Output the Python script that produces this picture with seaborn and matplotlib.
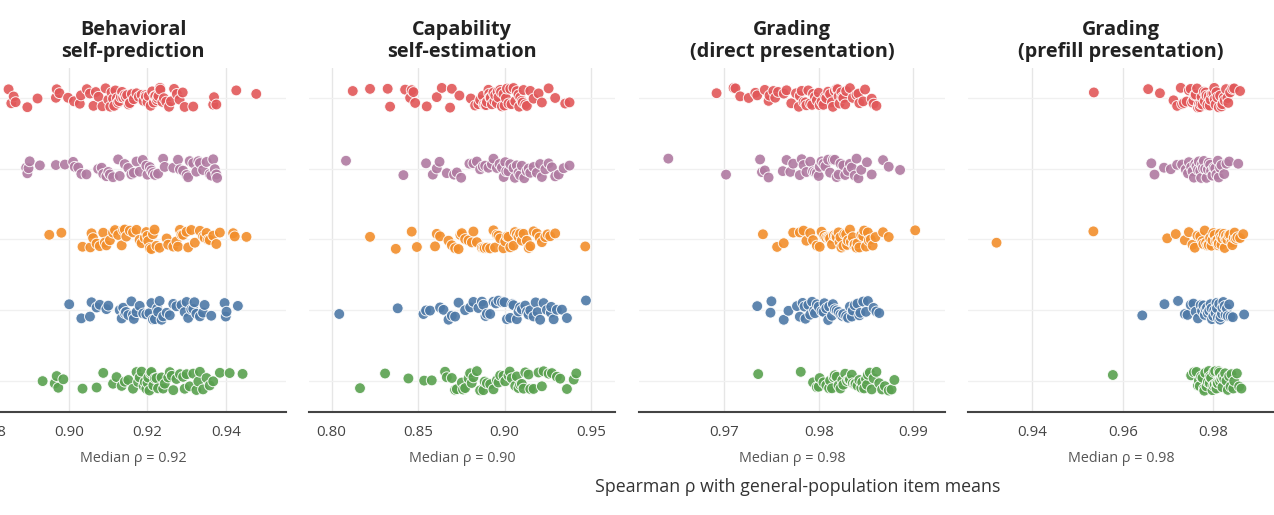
import numpy as np
import pandas as pd
import seaborn as sns
import matplotlib.pyplot as plt

ROWS = ["Group 1", "Group 2", "Group 3", "Group 4", "Group 5"]
COLORS = ["#e15759", "#b07aa1", "#f28e2b", "#4e79a7", "#59a14f"]
TITLES = ["Behavioral\nself-prediction", "Capability\nself-estimation",
          "Grading\n(direct presentation)", "Grading\n(prefill presentation)"]
MEDIANS = [0.92, 0.90, 0.98, 0.98]
TICKS = [[0.88, 0.90, 0.92, 0.94], [0.80, 0.85, 0.90, 0.95],
         [0.97, 0.98, 0.99], [0.94, 0.96, 0.98]]
XLIMS = [(0.8772, 0.9554), (0.7869, 0.9639), (0.9610, 0.99335), (0.9258, 0.9934)]

# panel 1: behavioral self-prediction
p1_red = [0.8845, 0.8852, 0.8858, 0.8863, 0.8893, 0.8919, 0.8966, 0.8968, 0.8975, 0.8997,
          0.9012, 0.9027, 0.9030, 0.9045, 0.9053, 0.9062, 0.9068, 0.9075, 0.9085, 0.9093,
          0.9100, 0.9105, 0.9108, 0.9112, 0.9115, 0.9118, 0.9122, 0.9125, 0.9128, 0.9132,
          0.9135, 0.9138, 0.9142, 0.9145, 0.9148, 0.9152, 0.9155, 0.9160, 0.9165, 0.9172,
          0.9178, 0.9185, 0.9190, 0.9195, 0.9196, 0.9200, 0.9203, 0.9208, 0.9212, 0.9216,
          0.9218, 0.9220, 0.9224, 0.9226, 0.9228, 0.9232, 0.9233, 0.9238, 0.9242, 0.9248,
          0.9255, 0.9260, 0.9268, 0.9275, 0.9282, 0.9290, 0.9295, 0.9317, 0.9368, 0.9370,
          0.9376, 0.9427, 0.9478]
p1_purple = [0.8890, 0.8893, 0.8896, 0.8899, 0.8925, 0.8966, 0.8989, 0.9010, 0.9014, 0.9023,
             0.9031, 0.9044, 0.9074, 0.9083, 0.9087, 0.9095, 0.9100, 0.9104, 0.9112, 0.9125,
             0.9129, 0.9142, 0.9151, 0.9159, 0.9165, 0.9172, 0.9180, 0.9188, 0.9197, 0.9200,
             0.9206, 0.9210, 0.9214, 0.9219, 0.9227, 0.9240, 0.9244, 0.9266, 0.9278, 0.9283,
             0.9291, 0.9300, 0.9304, 0.9308, 0.9317, 0.9325, 0.9330, 0.9334, 0.9342, 0.9351,
             0.9359, 0.9363, 0.9368, 0.9372, 0.9376, 0.9378]
p1_orange = [0.8949, 0.8980, 0.9034, 0.9054, 0.9057, 0.9061, 0.9070, 0.9078, 0.9087, 0.9091,
             0.9095, 0.9104, 0.9112, 0.9117, 0.9125, 0.9134, 0.9138, 0.9142, 0.9146, 0.9155,
             0.9163, 0.9172, 0.9180, 0.9185, 0.9193, 0.9197, 0.9200, 0.9202, 0.9206, 0.9210,
             0.9214, 0.9218, 0.9223, 0.9231, 0.9249, 0.9253, 0.9266, 0.9274, 0.9278, 0.9283,
             0.9287, 0.9291, 0.9300, 0.9304, 0.9312, 0.9321, 0.9334, 0.9342, 0.9346, 0.9351,
             0.9355, 0.9359, 0.9368, 0.9376, 0.9385, 0.9419, 0.9423, 0.9453]
p1_blue = [0.9000, 0.9031, 0.9053, 0.9057, 0.9070, 0.9078, 0.9095, 0.9100, 0.9129, 0.9134,
           0.9138, 0.9142, 0.9145, 0.9151, 0.9159, 0.9163, 0.9165, 0.9172, 0.9180, 0.9189,
           0.9197, 0.9205, 0.9210, 0.9214, 0.9219, 0.9225, 0.9227, 0.9231, 0.9236, 0.9240,
           0.9249, 0.9257, 0.9266, 0.9274, 0.9287, 0.9295, 0.9300, 0.9304, 0.9312, 0.9317,
           0.9320, 0.9325, 0.9334, 0.9342, 0.9346, 0.9363, 0.9397, 0.9400, 0.9402, 0.9431]
p1_green = [0.8932, 0.8963, 0.8968, 0.8972, 0.8985, 0.9034, 0.9070, 0.9087, 0.9112, 0.9121,
            0.9134, 0.9142, 0.9151, 0.9163, 0.9172, 0.9176, 0.9180, 0.9185, 0.9190, 0.9193,
            0.9197, 0.9200, 0.9202, 0.9205, 0.9208, 0.9210, 0.9215, 0.9219, 0.9223, 0.9227,
            0.9236, 0.9240, 0.9244, 0.9253, 0.9257, 0.9262, 0.9266, 0.9274, 0.9283, 0.9291,
            0.9295, 0.9300, 0.9308, 0.9317, 0.9325, 0.9330, 0.9334, 0.9342, 0.9351, 0.9359,
            0.9368, 0.9385, 0.9410, 0.9443]

# panel 2: capability self-estimation
p2_red = [0.8122, 0.8222, 0.8324, 0.8338, 0.8425, 0.8454, 0.8463, 0.8473, 0.8483, 0.8550,
          0.8608, 0.8637, 0.8685, 0.8695, 0.8739, 0.8805, 0.8830, 0.8849, 0.8859, 0.8874,
          0.8880, 0.8888, 0.8893, 0.8898, 0.8907, 0.8912, 0.8917, 0.8920, 0.8927, 0.8936,
          0.8941, 0.8946, 0.8956, 0.8960, 0.8965, 0.8975, 0.8980, 0.8985, 0.8994, 0.9000,
          0.9008, 0.9014, 0.9023, 0.9033, 0.9040, 0.9052, 0.9062, 0.9071, 0.9081, 0.9085,
          0.9091, 0.9100, 0.9105, 0.9110, 0.9120, 0.9129, 0.9149, 0.9168, 0.9197, 0.9216,
          0.9255, 0.9293, 0.9351, 0.9376]
p2_purple = [0.8083, 0.8415, 0.8546, 0.8585, 0.8608, 0.8624, 0.8666, 0.8708, 0.8724, 0.8749,
             0.8797, 0.8820, 0.8840, 0.8859, 0.8874, 0.8888, 0.8907, 0.8927, 0.8936, 0.8956,
             0.8971, 0.8985, 0.8995, 0.9004, 0.9010, 0.9023, 0.9033, 0.9052, 0.9060, 0.9071,
             0.9081, 0.9090, 0.9100, 0.9114, 0.9129, 0.9140, 0.9149, 0.9168, 0.9187, 0.9206,
             0.9216, 0.9236, 0.9255, 0.9274, 0.9293, 0.9313, 0.9342, 0.9376]
p2_orange = [0.8222, 0.8371, 0.8463, 0.8493, 0.8598, 0.8608, 0.8627, 0.8676, 0.8695, 0.8714,
             0.8734, 0.8745, 0.8753, 0.8772, 0.8792, 0.8811, 0.8820, 0.8840, 0.8869, 0.8878,
             0.8885, 0.8898, 0.8917, 0.8936, 0.8945, 0.8956, 0.8965, 0.8975, 0.8994, 0.9004,
             0.9015, 0.9023, 0.9033, 0.9052, 0.9060, 0.9071, 0.9081, 0.9090, 0.9100, 0.9110,
             0.9129, 0.9140, 0.9149, 0.9168, 0.9187, 0.9203, 0.9216, 0.9236, 0.9249, 0.9264,
             0.9293, 0.9467]
p2_blue = [0.8044, 0.8382, 0.8531, 0.8546, 0.8569, 0.8627, 0.8647, 0.8676, 0.8695, 0.8714,
           0.8734, 0.8772, 0.8801, 0.8820, 0.8849, 0.8869, 0.8878, 0.8890, 0.8898, 0.8917,
           0.8936, 0.8950, 0.8965, 0.8985, 0.9000, 0.9014, 0.9033, 0.9045, 0.9052, 0.9071,
           0.9081, 0.9090, 0.9100, 0.9120, 0.9130, 0.9139, 0.9149, 0.9168, 0.9180, 0.9191,
           0.9206, 0.9226, 0.9245, 0.9268, 0.9270, 0.9284, 0.9303, 0.9332, 0.9361, 0.9471]
p2_green = [0.8164, 0.8309, 0.8444, 0.8535, 0.8579, 0.8656, 0.8666, 0.8695, 0.8714, 0.8724,
            0.8753, 0.8760, 0.8772, 0.8792, 0.8801, 0.8810, 0.8820, 0.8840, 0.8859, 0.8878,
            0.8885, 0.8898, 0.8917, 0.8936, 0.8956, 0.8965, 0.8975, 0.8994, 0.9004, 0.9023,
            0.9030, 0.9042, 0.9062, 0.9071, 0.9081, 0.9090, 0.9100, 0.9110, 0.9120, 0.9139,
            0.9149, 0.9168, 0.9197, 0.9216, 0.9226, 0.9255, 0.9274, 0.9303, 0.9322, 0.9361,
            0.9400, 0.9415]

# panel 3: grading, direct presentation
p3_red = [0.9692, 0.9710, 0.9712, 0.9717, 0.9726, 0.9733, 0.9735, 0.9743, 0.9747, 0.9748,
          0.9752, 0.9754, 0.9757, 0.9763, 0.9766, 0.9771, 0.9776, 0.9779, 0.9780, 0.9782,
          0.9784, 0.9786, 0.9787, 0.9789, 0.9791, 0.9793, 0.9794, 0.9796, 0.9798, 0.9800,
          0.9801, 0.9803, 0.9805, 0.9807, 0.9808, 0.9810, 0.9812, 0.9814, 0.9815, 0.9817,
          0.9819, 0.9820, 0.9821, 0.9822, 0.9824, 0.9825, 0.9826, 0.9828, 0.9829, 0.9833,
          0.9836, 0.9840, 0.9842, 0.9843, 0.9847, 0.9849, 0.9856, 0.9858, 0.9861]
p3_purple = [0.9641, 0.9702, 0.9738, 0.9740, 0.9743, 0.9747, 0.9762, 0.9766, 0.9770, 0.9773,
             0.9780, 0.9782, 0.9784, 0.9787, 0.9791, 0.9794, 0.9796, 0.9798, 0.9800, 0.9801,
             0.9803, 0.9805, 0.9807, 0.9810, 0.9812, 0.9815, 0.9817, 0.9819, 0.9821, 0.9823,
             0.9826, 0.9828, 0.9831, 0.9833, 0.9835, 0.9838, 0.9840, 0.9842, 0.9845, 0.9851,
             0.9856, 0.9868, 0.9874, 0.9886]
p3_orange = [0.9741, 0.9756, 0.9763, 0.9773, 0.9780, 0.9784, 0.9787, 0.9791, 0.9794, 0.9798,
             0.9801, 0.9803, 0.9806, 0.9808, 0.9810, 0.9811, 0.9812, 0.9814, 0.9816, 0.9818,
             0.9819, 0.9821, 0.9822, 0.9823, 0.9824, 0.9826, 0.9827, 0.9829, 0.9830, 0.9831,
             0.9833, 0.9834, 0.9836, 0.9837, 0.9838, 0.9840, 0.9841, 0.9843, 0.9845, 0.9847,
             0.9848, 0.9850, 0.9852, 0.9853, 0.9855, 0.9857, 0.9860, 0.9868, 0.9874, 0.9902]
p3_blue = [0.9735, 0.9749, 0.9750, 0.9763, 0.9768, 0.9777, 0.9780, 0.9783, 0.9785, 0.9786,
           0.9789, 0.9791, 0.9793, 0.9795, 0.9796, 0.9798, 0.9800, 0.9803, 0.9805, 0.9806,
           0.9808, 0.9810, 0.9811, 0.9814, 0.9815, 0.9817, 0.9819, 0.9821, 0.9823, 0.9825,
           0.9826, 0.9829, 0.9831, 0.9833, 0.9835, 0.9836, 0.9838, 0.9841, 0.9843, 0.9844,
           0.9847, 0.9850, 0.9852, 0.9858, 0.9861, 0.9864]
p3_green = [0.9736, 0.9781, 0.9794, 0.9798, 0.9800, 0.9801, 0.9805, 0.9808, 0.9811, 0.9812,
            0.9814, 0.9816, 0.9817, 0.9819, 0.9821, 0.9823, 0.9825, 0.9826, 0.9828, 0.9830,
            0.9832, 0.9833, 0.9835, 0.9836, 0.9838, 0.9839, 0.9841, 0.9843, 0.9845, 0.9846,
            0.9848, 0.9850, 0.9851, 0.9852, 0.9854, 0.9856, 0.9858, 0.9861, 0.9864, 0.9867,
            0.9870, 0.9874, 0.9877, 0.9880]

# panel 4: grading, prefill presentation
p4_red = [0.9536, 0.9656, 0.9682, 0.9712, 0.9720, 0.9728, 0.9731, 0.9735, 0.9741, 0.9746,
          0.9750, 0.9753, 0.9756, 0.9759, 0.9761, 0.9764, 0.9766, 0.9768, 0.9770, 0.9772,
          0.9774, 0.9776, 0.9779, 0.9781, 0.9783, 0.9785, 0.9787, 0.9790, 0.9792, 0.9794,
          0.9797, 0.9800, 0.9802, 0.9803, 0.9805, 0.9807, 0.9809, 0.9812, 0.9815, 0.9818,
          0.9820, 0.9823, 0.9825, 0.9828, 0.9831, 0.9833, 0.9837, 0.9842, 0.9846, 0.9859]
p4_purple = [0.9663, 0.9670, 0.9691, 0.9706, 0.9720, 0.9731, 0.9739, 0.9744, 0.9746, 0.9751,
             0.9754, 0.9757, 0.9760, 0.9763, 0.9766, 0.9768, 0.9771, 0.9773, 0.9775, 0.9777,
             0.9779, 0.9782, 0.9785, 0.9788, 0.9790, 0.9793, 0.9795, 0.9798, 0.9801, 0.9804,
             0.9807, 0.9810, 0.9812, 0.9815, 0.9818, 0.9824, 0.9829, 0.9835, 0.9855]
p4_orange = [0.9321, 0.9535, 0.9698, 0.9717, 0.9737, 0.9746, 0.9754, 0.9759, 0.9765, 0.9771,
             0.9776, 0.9778, 0.9781, 0.9784, 0.9787, 0.9790, 0.9793, 0.9796, 0.9798, 0.9800,
             0.9803, 0.9806, 0.9809, 0.9811, 0.9812, 0.9815, 0.9817, 0.9818, 0.9820, 0.9823,
             0.9825, 0.9827, 0.9828, 0.9831, 0.9834, 0.9837, 0.9840, 0.9842, 0.9845, 0.9847,
             0.9850, 0.9853, 0.9859, 0.9866]
p4_blue = [0.9643, 0.9692, 0.9722, 0.9737, 0.9743, 0.9750, 0.9756, 0.9761, 0.9766, 0.9772,
           0.9775, 0.9778, 0.9781, 0.9783, 0.9786, 0.9788, 0.9791, 0.9794, 0.9796, 0.9797,
           0.9800, 0.9802, 0.9805, 0.9807, 0.9808, 0.9810, 0.9813, 0.9815, 0.9816, 0.9819,
           0.9820, 0.9822, 0.9825, 0.9827, 0.9830, 0.9832, 0.9835, 0.9838, 0.9843, 0.9868]
p4_green = [0.9578, 0.9751, 0.9757, 0.9763, 0.9766, 0.9768, 0.9770, 0.9773, 0.9776, 0.9779,
            0.9780, 0.9782, 0.9785, 0.9788, 0.9790, 0.9792, 0.9793, 0.9795, 0.9798, 0.9800,
            0.9801, 0.9803, 0.9804, 0.9807, 0.9808, 0.9810, 0.9812, 0.9814, 0.9815, 0.9818,
            0.9820, 0.9821, 0.9824, 0.9826, 0.9829, 0.9832, 0.9835, 0.9838, 0.9840, 0.9844,
            0.9846, 0.9852, 0.9857, 0.9862]

PANEL_DATA = [
    [p1_red, p1_purple, p1_orange, p1_blue, p1_green],
    [p2_red, p2_purple, p2_orange, p2_blue, p2_green],
    [p3_red, p3_purple, p3_orange, p3_blue, p3_green],
    [p4_red, p4_purple, p4_orange, p4_blue, p4_green],
]

frames = []
for title, rows in zip(TITLES, PANEL_DATA):
    for name, vals in zip(ROWS, rows):
        frames.append(pd.DataFrame({"panel": title, "row": name, "rho": vals}))
df = pd.concat(frames, ignore_index=True)

sns.set_theme(style="white")
plt.rcParams["font.family"] = ["Open Sans", "DejaVu Sans"]
np.random.seed(7)

W, H = 1274, 515
fig = plt.figure(figsize=(W / 100, H / 100), dpi=100)
lefts = [-20, 309, 639, 968]

for i, title in enumerate(TITLES):
    ax = fig.add_axes([lefts[i] / W, 1 - 412 / H, 306 / W, 344 / H])
    sub = df[df.panel == title]
    sns.stripplot(data=sub, x="rho", y="row", hue="row", order=ROWS, hue_order=ROWS,
                  palette=COLORS, jitter=0.14, size=7.8, alpha=0.9,
                  edgecolor="white", linewidth=0.7, legend=False, ax=ax, zorder=3)
    ax.set_xlim(*XLIMS[i])
    ax.set_ylim(4.44, -0.42)
    ax.set_xticks(TICKS[i])
    ax.set_xticklabels([f"{t:.2f}" for t in TICKS[i]])
    ax.set_yticklabels([])
    ax.set_ylabel("")
    ax.tick_params(axis="both", length=0)
    ax.tick_params(axis="x", pad=9, labelsize=10.8, labelcolor="#444444")
    ax.xaxis.grid(True, color="#e6e6e6", lw=1)
    ax.yaxis.grid(True, color="#f0f0f0", lw=1)
    ax.set_axisbelow(True)
    for s in ["top", "left", "right"]:
        ax.spines[s].set_visible(False)
    ax.spines["bottom"].set_color("#444444")
    ax.spines["bottom"].set_linewidth(1.5)
    ax.set_xlabel(f"Median ρ = {MEDIANS[i]:.2f}", fontsize=10.4, color="#555555", labelpad=8)
    ax.set_title(title, fontsize=14.3, fontweight="bold", color="#222222", pad=8,
                 linespacing=1.12)

fig.text(798 / W, 1 - 487 / H, "Spearman ρ with general-population item means",
         ha="center", va="center", fontsize=12.8, color="#333333")

fig.savefig("out.png", dpi=100)
